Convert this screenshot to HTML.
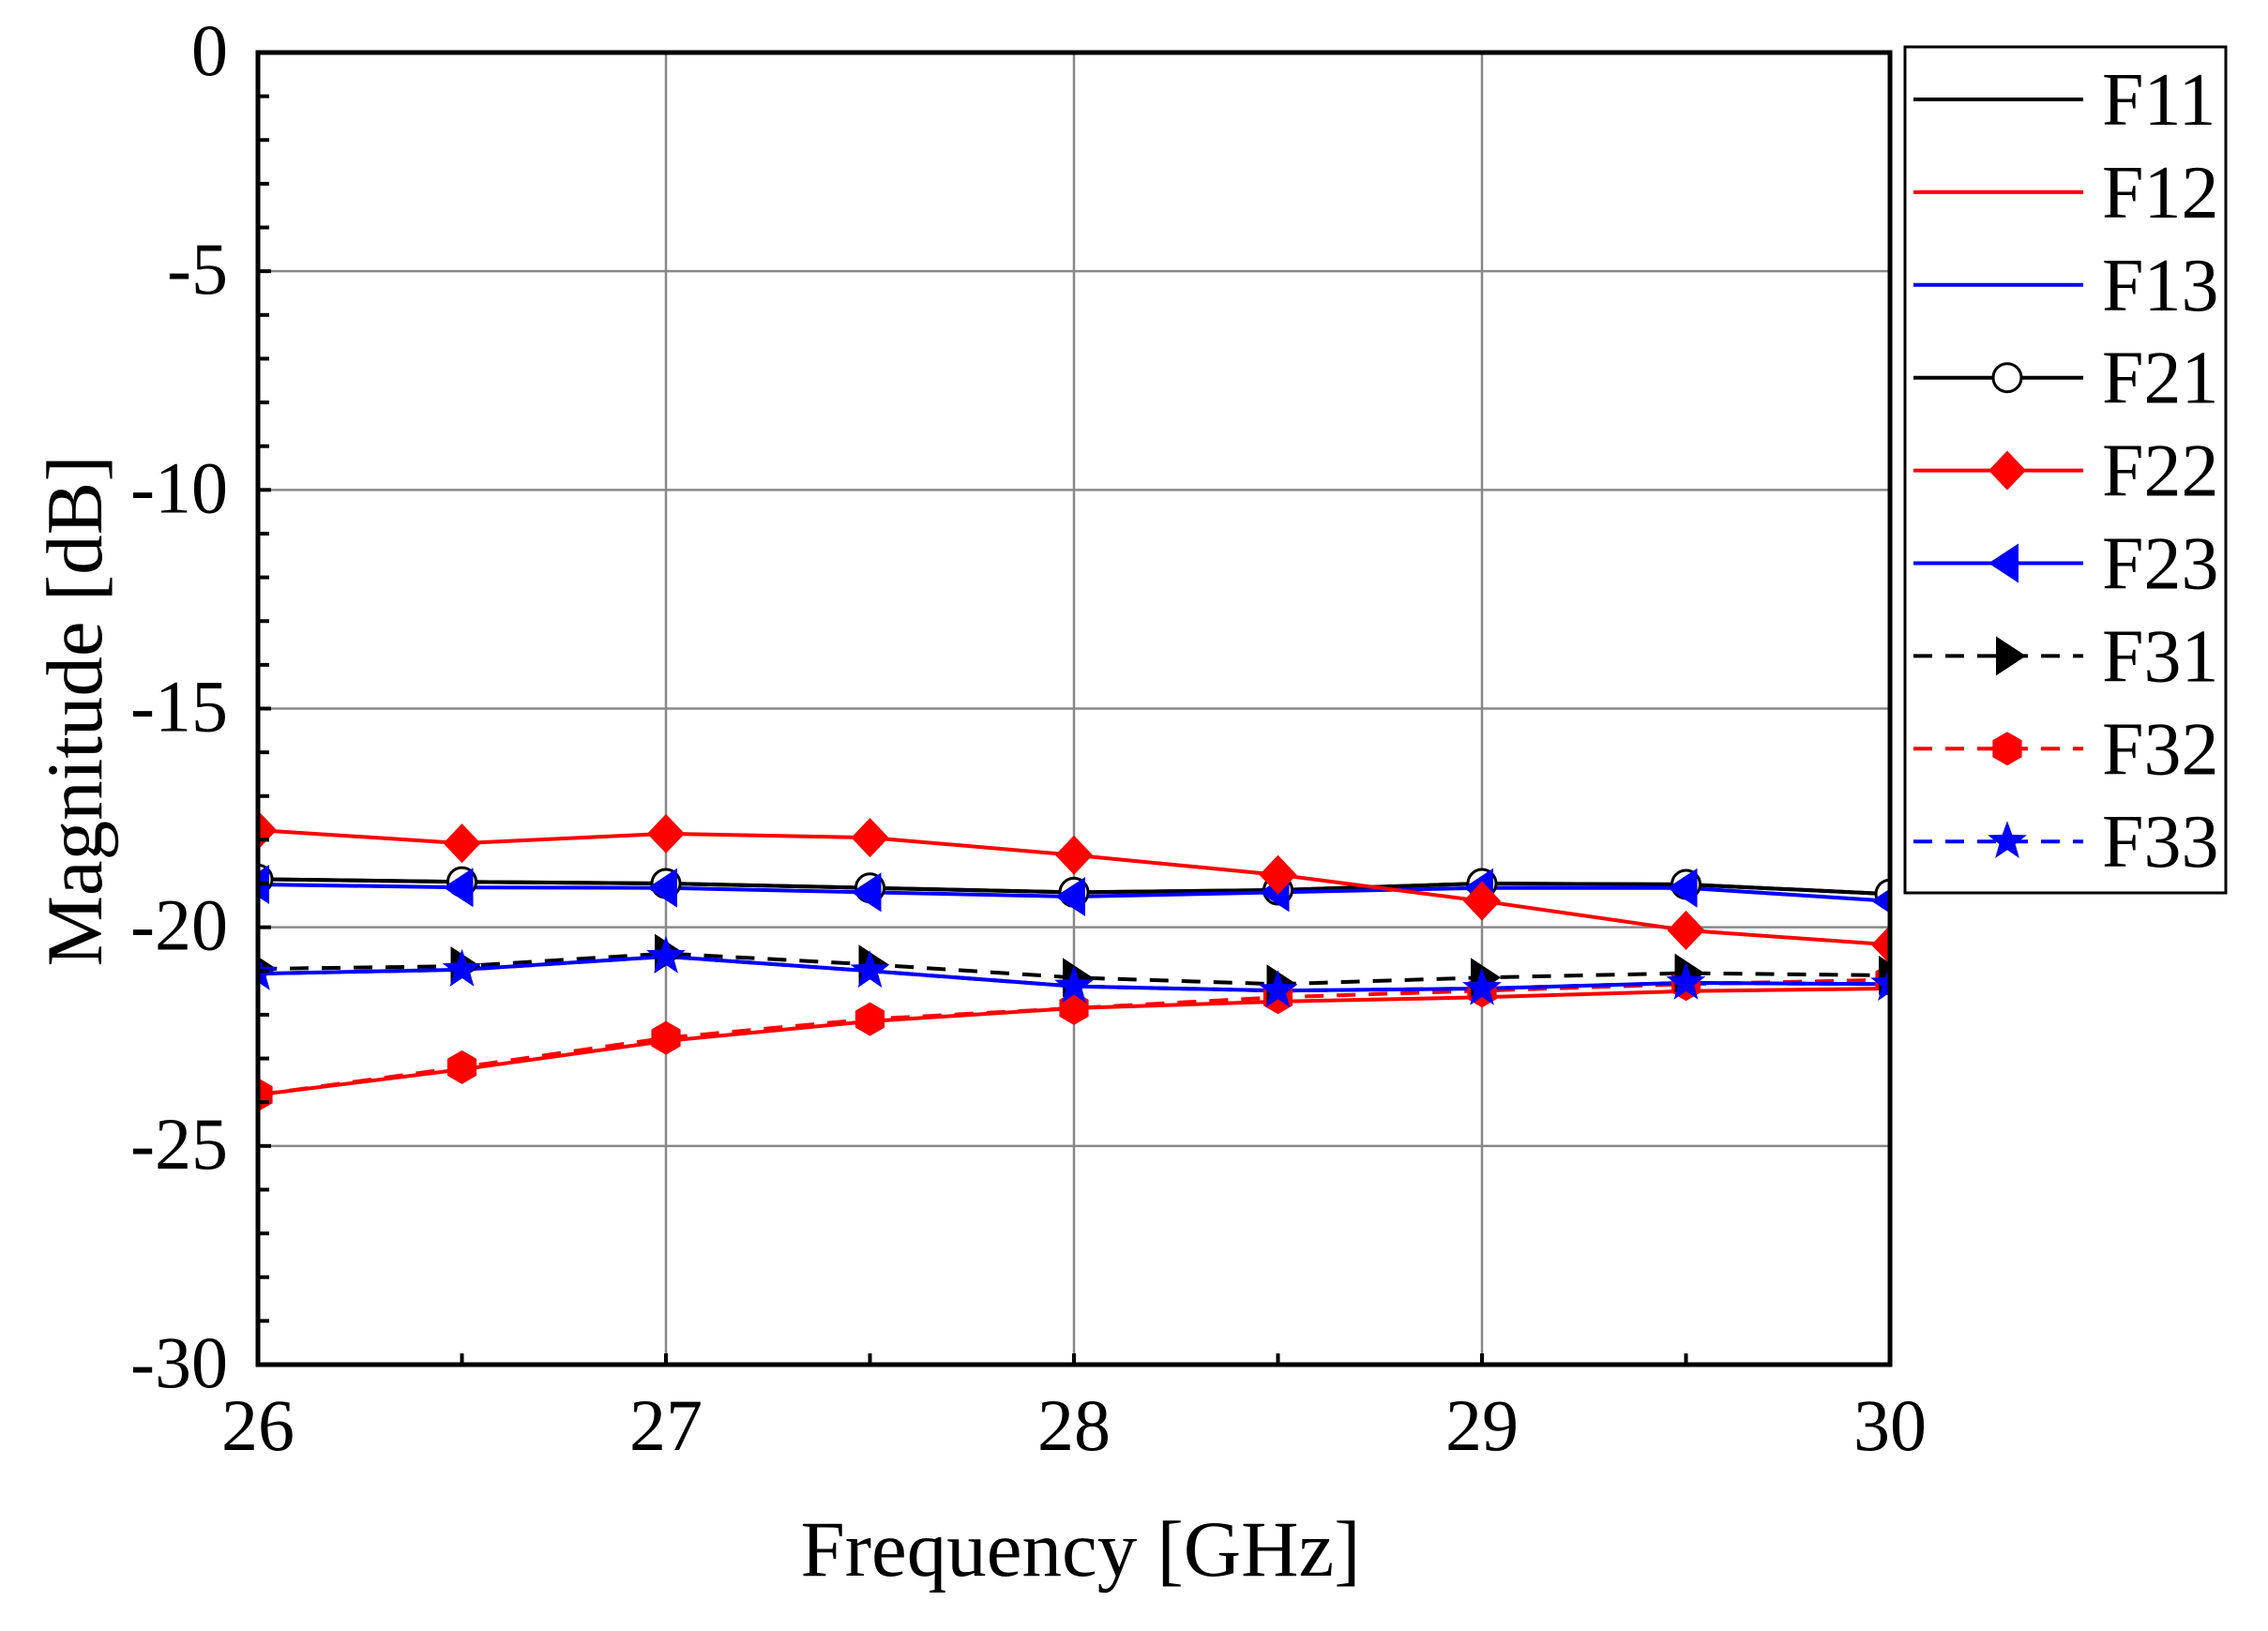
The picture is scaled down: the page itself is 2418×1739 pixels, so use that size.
<!DOCTYPE html>
<html><head><meta charset="utf-8"><style>
html,body{margin:0;padding:0;background:#fff;}
svg{display:block;font-family:"Liberation Serif","Times New Roman",serif;}
</style></head><body>
<svg id="s" xmlns="http://www.w3.org/2000/svg" width="2418" height="1739" viewBox="0 0 2418 1739"></svg>
<script>
const S=document.getElementById('s');
const L=275,R=2015,T=56,B=1455;
const X=v=>L+(v-26)*435, Y=v=>T+(-v)*(B-T)/30;
let h='';
h+='<defs><clipPath id="c"><rect x="'+L+'" y="'+T+'" width="'+(R-L)+'" height="'+(B-T)+'"/></clipPath></defs>';
// grid
for(let g=27;g<30;g++) h+=`<line x1="${X(g)}" y1="${T}" x2="${X(g)}" y2="${B}" stroke="#888" stroke-width="2.5"/>`;
for(let g=-5;g>-30;g-=5) h+=`<line x1="${L}" y1="${Y(g)}" x2="${R}" y2="${Y(g)}" stroke="#888" stroke-width="2.5"/>`;
const xs=[26,26.5,27,27.5,28,28.5,29,29.5,30];
const d={
F11:[-18.9,-18.96,-19.0,-19.1,-19.2,-19.15,-19.0,-19.02,-19.24],
F13:[-21.06,-20.97,-20.67,-21.0,-21.35,-21.45,-21.4,-21.27,-21.3],
F12:[-23.83,-23.25,-22.6,-22.15,-21.85,-21.7,-21.6,-21.46,-21.4],
F21:[-18.9,-18.96,-19.0,-19.1,-19.2,-19.15,-19.0,-19.02,-19.24],
F23:[-19.02,-19.09,-19.1,-19.2,-19.3,-19.2,-19.1,-19.1,-19.4],
F22:[-17.78,-18.08,-17.86,-17.95,-18.35,-18.8,-19.4,-20.07,-20.4],
F31:[-20.95,-20.89,-20.6,-20.85,-21.15,-21.3,-21.15,-21.05,-21.1],
F32:[-23.83,-23.2,-22.53,-22.1,-21.85,-21.6,-21.45,-21.3,-21.2],
F33:[-21.06,-20.97,-20.67,-21.0,-21.35,-21.45,-21.4,-21.27,-21.3]};
const st={F11:['#000',0,''],F12:['#f00',0,''],F13:['#00f',0,''],F21:['#000',0,'circ'],F22:['#f00',0,'dia'],F23:['#00f',0,'tl'],F31:['#000',1,'tr'],F32:['#f00',1,'hex'],F33:['#00f',1,'star']};
function mk(t,x,y,c){
 if(t==='circ')return `<circle cx="${x}" cy="${y}" r="15" fill="#fff" stroke="#000" stroke-width="3"/>`;
 if(t==='dia')return `<polygon points="${x},${y-21} ${x+20},${y} ${x},${y+21} ${x-20},${y}" fill="${c}"/>`;
 if(t==='tl')return `<polygon points="${x-20},${y} ${x+12},${y-21} ${x+12},${y+21}" fill="${c}"/>`;
 if(t==='tr')return `<polygon points="${x+20},${y} ${x-12},${y-21} ${x-12},${y+21}" fill="${c}"/>`;
 if(t==='hex'){let p=[];for(let i=0;i<6;i++){let a=Math.PI/3*i+Math.PI/6;p.push((x+18*Math.cos(a)).toFixed(1)+','+(y+18*Math.sin(a)).toFixed(1));}return `<polygon points="${p.join(' ')}" fill="${c}"/>`;}
 if(t==='star'){let p=[];for(let i=0;i<10;i++){let r=i%2?9:22,a=-Math.PI/2+Math.PI/5*i;p.push((x+r*Math.cos(a)).toFixed(1)+','+(y+r*Math.sin(a)).toFixed(1));}return `<polygon points="${p.join(' ')}" fill="${c}"/>`;}
 return '';
}
let lines='',marks='';
for(const k of ['F12','F32','F11','F21','F31','F13','F33','F23','F22']){
 const [c,dash,m]=st[k];
 lines+=`<polyline fill="none" stroke="${c}" stroke-width="4" ${dash?'stroke-dasharray="20 14"':''} points="${xs.map((x,i)=>X(x)+','+Y(d[k][i]).toFixed(1)).join(' ')}"/>`;
 if(m) xs.forEach((x,i)=>marks+=mk(m,X(x),Y(d[k][i]),c));
}
h+=`<g clip-path="url(#c)">${lines}${marks}</g>`;
// ticks
for(let v=0;v>=-30;v--){const y=Y(v);h+=`<line x1="${L}" y1="${y}" x2="${L+ (v%5?12:14)}" y2="${y}" stroke="#000" stroke-width="4"/>`;}
for(let x=26.5;x<30;x+=0.5){h+=`<line x1="${X(x)}" y1="${B}" x2="${X(x)}" y2="${B-12}" stroke="#000" stroke-width="4"/>`;}
h+=`<rect x="${L}" y="${T}" width="${R-L}" height="${B-T}" fill="none" stroke="#000" stroke-width="5"/>`;
// labels
for(let v=0;v>=-30;v-=5) h+=`<text x="243" y="${Y(v)+24}" font-size="78" text-anchor="end">${v===0?'0':'-'+(-v)}</text>`;
for(let x=26;x<=30;x++) h+=`<text x="${X(x)}" y="1546" font-size="78" text-anchor="middle">${x}</text>`;
h+=`<text x="1152" y="1680" font-size="85" text-anchor="middle">Frequency [GHz]</text>`;
h+=`<text transform="translate(108,758) rotate(-90)" font-size="85" text-anchor="middle">Magnitude [dB]</text>`;
// legend
h+=`<rect x="2031" y="50" width="342" height="902" fill="#fff" stroke="#000" stroke-width="3"/>`;
const names=['F11','F12','F13','F21','F22','F23','F31','F32','F33'];
names.forEach((k,i)=>{const y=106+i*98.9;const [c,dash,m]=st[k];
 h+=`<line x1="2040" y1="${y}" x2="2221" y2="${y}" stroke="${c}" stroke-width="4" ${dash?'stroke-dasharray="20 14"':''}/>`;
 h+=mk(m,2140,y,c);
 h+=`<text x="2241" y="${y+27}" font-size="80">${k}</text>`;});
S.innerHTML=h;
</script>
</body></html>
